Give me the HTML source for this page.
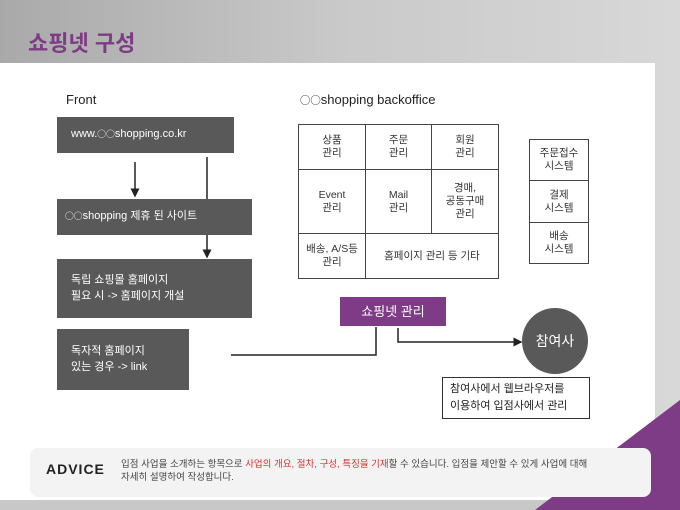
<!DOCTYPE html>
<html><head><meta charset="utf-8"><style>
body{margin:0;width:680px;height:510px;overflow:hidden;position:relative;font-family:"Liberation Sans","Noto Sans CJK KR",sans-serif;background:linear-gradient(90deg,#a9a9a9 0%,#c9c9c9 50%,#d8d8d8 100%);}
.a{position:absolute;box-sizing:border-box}
.o{font-family:"Noto Sans CJK KR",sans-serif;font-size:0.8em}
.dk{background:#595959;color:#fff;font-size:11px;line-height:16px;padding-left:14px}
.t{font-size:10.5px;color:#333;text-align:center;line-height:13px;display:flex;align-items:center;justify-content:center;border:1px solid #444}
</style></head><body>
<div class="a" style="left:0;top:500px;width:680px;height:10px;background:#c8c8c8"></div>
<div class="a" style="left:28px;top:26px;font-size:22px;font-weight:bold;color:#7d3c85">쇼핑넷 구성</div>
<div class="a" style="left:0;top:63px;width:655px;height:437px;background:#fff"></div>
<svg class="a" style="left:0;top:0" width="680" height="510"><polygon points="680,400 680,510 535,510" fill="#7d3c85"/></svg>
<div class="a" style="left:66px;top:92px;font-size:13px;color:#222">Front</div>
<div class="a" style="left:300px;top:92px;font-size:13px;color:#222"><span class="o">○○</span>shopping backoffice</div>
<div class="a dk" style="left:57px;top:117px;width:177px;height:36px;padding-top:9px">www.<span class="o">○○</span>shopping.co.kr</div>
<div class="a dk" style="left:57px;top:199px;width:195px;height:36px;padding-top:9px;padding-left:8px"><span class="o">○○</span>shopping 제휴 된 사이트</div>
<div class="a dk" style="left:57px;top:259px;width:195px;height:59px;padding-top:13px">독립 쇼핑몰 홈페이지<br>필요 시 -&gt; 홈페이지 개설</div>
<div class="a dk" style="left:57px;top:329px;width:132px;height:61px;padding-top:14px">독자적 홈페이지<br>있는 경우 -&gt; link</div>
<svg class="a" style="left:0;top:0" width="680" height="510">
<defs><marker id="m" markerWidth="6" markerHeight="6" refX="5" refY="3" orient="auto"><path d="M0,0 L6,3 L0,6z" fill="#222"/></marker></defs>
<g stroke="#222" stroke-width="1.5" fill="none">
<line x1="135" y1="162" x2="135" y2="196" marker-end="url(#m)"/>
<line x1="207" y1="157" x2="207" y2="199"/>
<line x1="207" y1="235" x2="207" y2="257" marker-end="url(#m)"/>
<polyline points="231,355 376,355 376,327"/>
<polyline points="398,328 398,342 521,342" marker-end="url(#m)"/>
</g>
<circle cx="555" cy="341" r="33" fill="#595959"/>
<text x="555" y="346" fill="#fff" font-size="14" text-anchor="middle" font-family="Liberation Sans,Noto Sans CJK KR,sans-serif">참여사</text>
</svg>
<div class="a" style="left:340px;top:297px;width:106px;height:29px;background:#7d3c85;color:#fff;font-size:13px;text-align:center;line-height:29px">쇼핑넷 관리</div>
<div class="a" style="left:442px;top:377px;width:148px;height:42px;border:1px solid #333;font-size:11px;line-height:17px;padding:3px 0 0 7px;color:#222">참여사에서 웹브라우저를<br>이용하여 입점사에서 관리</div>
<div class="a t" style="left:298px;top:124px;width:68px;height:46px">상품<br>관리</div>
<div class="a t" style="left:365px;top:124px;width:67px;height:46px">주문<br>관리</div>
<div class="a t" style="left:431px;top:124px;width:68px;height:46px">회원<br>관리</div>
<div class="a t" style="left:298px;top:169px;width:68px;height:65px">Event<br>관리</div>
<div class="a t" style="left:365px;top:169px;width:67px;height:65px">Mail<br>관리</div>
<div class="a t" style="left:431px;top:169px;width:68px;height:65px">경매,<br>공동구매<br>관리</div>
<div class="a t" style="left:298px;top:233px;width:68px;height:46px">배송, A/S등<br>관리</div>
<div class="a t" style="left:365px;top:233px;width:134px;height:46px">홈페이지 관리 등 기타</div>
<div class="a t" style="left:529px;top:139px;width:60px;height:42px">주문접수<br>시스템</div>
<div class="a t" style="left:529px;top:180px;width:60px;height:43px">결제<br>시스템</div>
<div class="a t" style="left:529px;top:222px;width:60px;height:42px">배송<br>시스템</div>
<div class="a" style="left:30px;top:448px;width:621px;height:49px;background:#f3f3f3;border-radius:8px"></div>
<div class="a" style="left:46px;top:461px;font-size:14px;font-weight:bold;color:#222;letter-spacing:1px">ADVICE</div>
<div class="a" style="left:121px;top:458px;width:528px;font-size:9.5px;line-height:13px;color:#444;white-space:nowrap">입점 사업을 소개하는 항목으로 <span style="color:#d33">사업의 개요, 절차, 구성, 특징을 기재</span>할 수 있습니다. 입점을 제안할 수 있게 사업에 대해<br>자세히 설명하여 작성합니다.</div>
</body></html>
